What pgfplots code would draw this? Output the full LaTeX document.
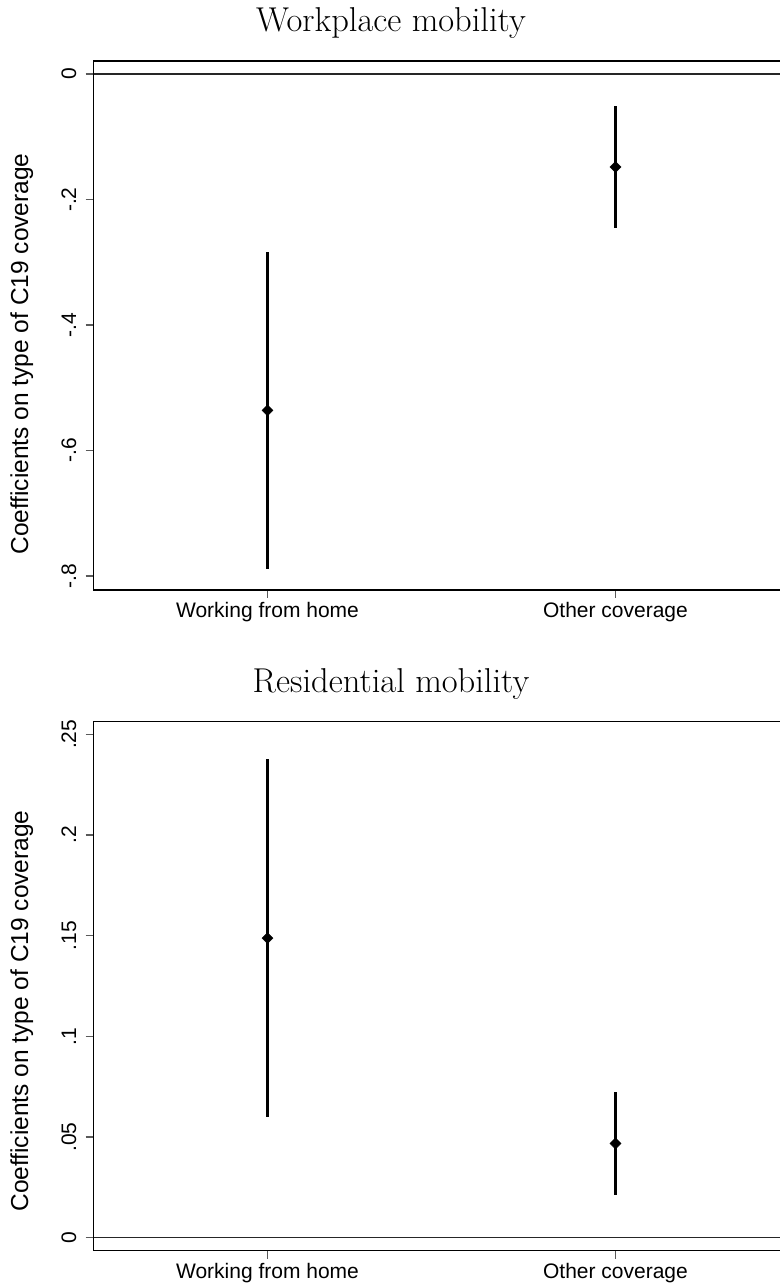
\documentclass[border=0pt]{standalone}
\usepackage{fontspec}
\newfontfamily\arial{Liberation Sans}
\usepackage{pgfplots}
\pgfplotsset{compat=1.18}

% one Stata-like coefficient panel, 1pt = 1px of the reference
\pgfplotsset{
  coefpanel/.style={
    anchor=south west, scale only axis,
    width=696pt, height=529pt,
    xmin=0.5, xmax=2.5,
    xtick={1,2}, xticklabels={Working from home, Other coverage},
    xtick pos=bottom, ytick pos=left,
    tick align=outside, major tick length=8pt,
    axis line style={line width=1.6pt, black},
    tick style={line width=1.4pt, black!65},
    ticklabel style={font=\arial\fontsize{21}{25}\selectfont},
    yticklabel style={rotate=90, anchor=base, inner sep=0pt},
    xticklabel style={anchor=base, inner sep=0pt},
    yticklabel shift=9.5pt,
    xticklabel shift=19.5pt,
    clip=false,
  },
  coefs/.style={
    only marks, black, mark=square*, mark size=3.9pt,
    mark options={rotate=45, solid},
    error bars/.cd, y dir=both, y explicit, error mark=none,
    error bar style={line width=2.1pt, black},
  },
}

\begin{document}
\begin{tikzpicture}

% Workplace mobility
\begin{axis}[coefpanel, at={(93.5pt,697pt)},
  ymin=-0.8225, ymax=0.021,
  ytick={-0.8,-0.6,-0.4,-0.2,0},
  yticklabels={-.8,-.6,-.4,-.2,0}]
  \addplot[black!85, line width=1.5pt] coordinates {(0.5,0) (2.5,0)};
  \addplot[coefs] coordinates {
    (1,-0.536) +- (0,0.253)
    (2,-0.148) +- (0,0.097)
  };
\end{axis}

% Residential mobility
\begin{axis}[coefpanel, at={(93.5pt,36.3pt)},
  ymin=-0.00646, ymax=0.2563,
  ytick={0,0.05,0.1,0.15,0.2,0.25},
  yticklabels={0,.05,.1,.15,.2,.25}]
  \addplot[black!85, line width=1.5pt] coordinates {(0.5,0) (2.5,0)};
  \addplot[coefs] coordinates {
    (1,0.1488) +- (0,0.0888)
    (2,0.0468) +- (0,0.0256)
  };
\end{axis}

\node[anchor=base, inner sep=0pt, font=\fontsize{34.5}{40}\selectfont]
  at (391pt,1255pt) {Workplace mobility};
\node[anchor=base, inner sep=0pt, font=\fontsize{34.5}{40}\selectfont]
  at (391pt,594.3pt) {Residential mobility};

\node[rotate=90, anchor=base, inner sep=0pt, font=\arial\fontsize{24.5}{29}\selectfont]
  at (28pt,933pt) {Coefficients on type of C19 coverage};
\node[rotate=90, anchor=base, inner sep=0pt, font=\arial\fontsize{24.5}{29}\selectfont]
  at (28pt,276pt) {Coefficients on type of C19 coverage};

\pgfresetboundingbox
\useasboundingbox (0,0) rectangle (779pt,1287pt);
\end{tikzpicture}
\end{document}
